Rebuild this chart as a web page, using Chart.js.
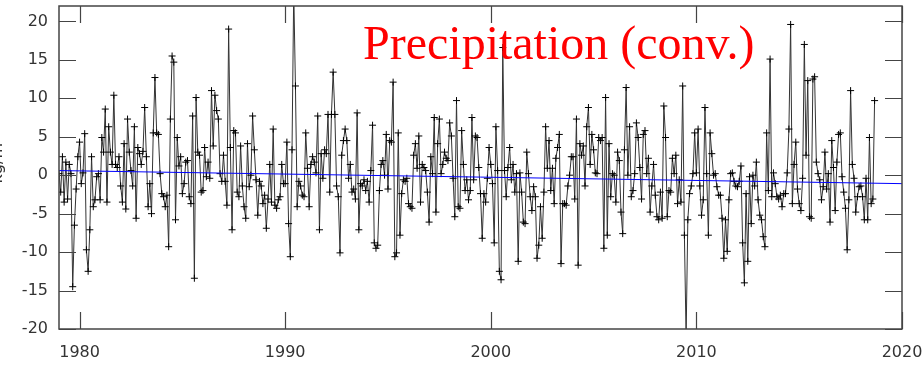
<!DOCTYPE html>
<html>
<head>
<meta charset="utf-8">
<script src="https://cdn.jsdelivr.net/npm/chart.js@4"></script>
<style>
  html, body { margin: 0; padding: 0; background: #ffffff; }
  #wrap { width: 924px; height: 368px; }
</style>
</head>
<body>
<div id="wrap"><canvas id="c" width="924" height="368"></canvas></div>
<script>
// ---------------- data ----------------
const startYear = 1979;           // first month: Jan 1979
const chartTitle = 'Precipitation (conv.)';
const yAxisTitle = 'kg/m²';
const xTickYears = [1980, 1990, 2000, 2010, 2020];
const yTickValues = [-20, -15, -10, -5, 0, 5, 10, 15, 20];
const trendStartEnd = [0.6, -1.1];   // blue trend line at 1979 and 2020
const trendYears = [1979, 2020];

// monthly anomalies, one row per year
const precip = [
  /*1979*/ 0.2, -2.2, 2.4, -3.5, 1.7, -3.1, 1.4, 0.2, -14.5, -6.5, -1.8, 2.4,
  /*1980*/ 4.3, -1.1, 0.3, 5.4, -9.7, -12.5, -7.1, 2.4, -4.1, -3.2, -0.2, 0.2,
  /*1981*/ -3.2, 4.9, 3.0, 8.6, -3.5, 6.3, 3.0, 1.4, 10.4, 1.4, 1.0, 2.4,
  /*1982*/ -1.4, -3.5, 4.1, -4.4, 7.3, 3.0, 0.6, -1.4, 6.3, -5.6, 3.6, 2.8,
  /*1983*/ 1.4, 3.1, 8.8, 2.4, -4.1, -1.1, -5.0, 5.5, 12.7, 5.5, 5.3, 0.2,
  /*1984*/ -2.4, -2.8, -4.1, -2.6, -9.3, 7.3, 15.5, 14.7, -5.8, 4.9, 1.2, 2.4,
  /*1985*/ -2.4, -1.1, 1.7, 1.9, -2.8, -3.7, 7.7, -13.4, 10.1, 3.0, 2.6, -2.2,
  /*1986*/ -2.0, 3.6, -0.2, 1.7, -0.4, 11.0, 3.8, 10.4, 8.4, 7.3, 0.2, -0.8,
  /*1987*/ 2.6, -0.8, -3.9, 19.0, 3.6, -7.1, 5.8, 5.5, -2.2, -2.8, 3.8, -1.4,
  /*1988*/ -4.1, -5.6, 4.1, -1.5, 0.0, 7.7, 3.3, -0.6, -5.2, -0.8, -1.4, -3.7,
  /*1989*/ -2.6, -6.9, -3.1, 1.4, -3.5, 6.0, -3.9, -4.3, -3.2, -2.8, 1.4, -1.1,
  /*1990*/ -1.1, 4.3, -6.3, -10.6, 3.3, 24.0, 11.6, -4.1, -0.8, -1.4, -2.6, -2.8,
  /*1991*/ 5.5, 0.9, -4.1, 1.4, 2.4, 1.7, 0.3, 7.7, -7.1, 2.8, -0.4, 3.3,
  /*1992*/ 2.8, 7.9, -2.2, 7.9, 13.4, 7.9, -1.4, -2.8, -10.1, 2.6, 4.5, 6.0,
  /*1993*/ 4.5, -0.4, 1.4, -2.2, -1.8, -3.1, 8.1, -7.1, -1.1, -1.4, -0.6, -2.0,
  /*1994*/ -0.8, -3.5, 0.6, 6.5, -8.8, -9.5, -9.1, -2.0, 1.4, 1.9, 0.0, 5.3,
  /*1995*/ -1.8, 4.5, 4.3, 12.1, -10.6, -10.1, 5.5, -7.8, -2.4, -0.6, -0.8, -0.4,
  /*1996*/ -3.7, -4.1, -4.3, 2.6, 4.1, 0.9, 5.1, -3.5, 1.4, 1.0, 0.6, -2.2,
  /*1997*/ -6.1, 2.4, 0.2, 7.5, -4.8, 4.1, 7.3, 0.2, 1.4, 3.0, 2.2, 1.9,
  /*1998*/ 6.8, 5.1, -0.4, -5.4, 9.7, -4.1, -4.3, 5.8, 1.4, -2.0, -0.6, -3.2,
  /*1999*/ -2.0, 7.5, -0.6, 5.1, 4.9, 1.0, -2.4, -8.2, -2.4, -3.5, -0.4, 3.6,
  /*2000*/ 1.4, -1.1, -8.8, 6.3, 0.6, -12.5, -13.6, 16.6, 0.6, -2.8, 1.0, 3.6,
  /*2001*/ -0.6, 1.4, -2.2, 0.2, -11.2, 0.3, -2.2, -6.1, -6.3, 3.0, 0.2, -2.8,
  /*2002*/ -4.6, -1.5, -2.8, -10.8, -9.1, -4.1, -8.2, -2.2, 6.3, 0.9, 4.5, -2.0,
  /*2003*/ 0.9, -3.7, 2.2, 3.6, 5.3, -11.5, -3.7, -3.7, -3.9, -1.4, 0.0, 2.4,
  /*2004*/ 2.4, -3.1, 7.3, -11.7, 4.1, 2.6, 3.8, -1.4, 6.3, 8.8, 1.4, 5.3,
  /*2005*/ 3.3, 0.3, 0.2, 4.9, 4.5, 4.9, -9.5, 10.1, -7.8, 4.1, -2.8, 0.2,
  /*2006*/ 0.0, -3.5, 3.0, 1.9, -4.8, -7.6, 3.3, 11.4, 0.0, 6.3, -2.8, -2.0,
  /*2007*/ 0.2, 6.8, 4.9, 1.0, -3.1, 5.3, 5.8, 0.2, 2.2, -4.8, -1.4, 1.4,
  /*2008*/ -2.6, -5.4, -5.8, -2.2, -5.6, 9.0, 4.9, -5.4, -2.0, -2.2, 2.2, 0.2,
  /*2009*/ 2.6, -3.7, -0.6, -3.5, 11.6, -7.8, -21.0, -5.8, -2.4, -1.4, 0.2, 5.5,
  /*2010*/ 0.3, 6.0, -1.4, -5.2, -3.2, 8.8, 0.2, -7.8, 5.5, 2.8, 0.0, 0.2,
  /*2011*/ -1.5, -2.6, -2.6, -5.6, -10.8, -5.8, -9.9, -3.2, 0.2, 0.3, -0.8, -1.4,
  /*2012*/ -1.5, -0.8, 1.2, -8.8, -14.0, -2.4, -11.2, -0.2, -6.3, 0.0, -1.4, 1.7,
  /*2013*/ -3.2, -5.2, -5.8, -8.0, -9.3, 5.5, -2.0, 15.1, -2.8, 0.3, -1.1, -2.8,
  /*2014*/ -3.1, -2.6, -4.1, -2.4, -2.4, 0.3, 6.0, 19.6, -3.7, 1.4, 4.3, -1.8,
  /*2015*/ -3.7, -4.6, -0.4, 17.0, 2.6, 12.3, -5.4, -5.6, 12.5, 12.8, 1.7, 0.2,
  /*2016*/ -0.6, -3.2, -1.5, 3.0, -1.8, 0.2, -6.1, 4.5, 1.0, -4.6, 1.7, 5.3,
  /*2017*/ 5.5, -0.2, -2.2, -4.3, -9.7, -3.2, 11.0, 1.4, -0.4, -4.8, -2.8, -1.5,
  /*2018*/ -1.4, -2.8, -5.8, -0.4, -5.8, 4.9, -3.7, -3.1, 9.7
];

// ---------------- chart ----------------
const seriesPoints = precip.map((v, i) => ({ x: startYear + i / 12, y: v }));
const trendPoints = trendYears.map((yr, i) => ({ x: yr, y: trendStartEnd[i] }));

const frameAndTitle = {
  id: 'frameAndTitle',
  afterDraw(chart) {
    const { ctx, chartArea: a, scales } = chart;
    const xs = scales.x, ys = scales.y;
    const tl = 17;
    ctx.save();
    ctx.strokeStyle = '#444444';
    ctx.lineWidth = 1.5;
    ctx.strokeRect(a.left, a.top, a.right - a.left, a.bottom - a.top);
    ctx.lineWidth = 1.2;
    ctx.beginPath();
    xTickYears.forEach(v => {
      const px = Math.round(xs.getPixelForValue(v)) + 0.5;
      ctx.moveTo(px, a.bottom); ctx.lineTo(px, a.bottom - tl);
      ctx.moveTo(px, a.top); ctx.lineTo(px, a.top + tl);
    });
    yTickValues.forEach(v => {
      const py = Math.round(ys.getPixelForValue(v)) + 0.5;
      ctx.moveTo(a.left, py); ctx.lineTo(a.left + tl, py);
      ctx.moveTo(a.right, py); ctx.lineTo(a.right - tl, py);
    });
    ctx.stroke();

    // title inside plot
    ctx.fillStyle = '#ff0000';
    ctx.font = '48px "Liberation Serif", "Times New Roman", serif';
    ctx.textBaseline = 'alphabetic';
    ctx.textAlign = 'left';
    ctx.fillText(chartTitle, 363, 59);

    // partially visible y-axis title
    ctx.save();
    ctx.translate(2, 160);
    ctx.rotate(-Math.PI / 2);
    ctx.fillStyle = '#333333';
    ctx.font = '16px "DejaVu Sans", sans-serif';
    ctx.textAlign = 'center';
    ctx.textBaseline = 'alphabetic';
    ctx.fillText(yAxisTitle, 0, 0);
    ctx.restore();
    ctx.restore();
  }
};

new Chart(document.getElementById('c'), {
  type: 'line',
  data: {
    datasets: [
      {
        data: trendPoints,
        borderColor: '#0000ff',
        borderWidth: 1,
        pointRadius: 0,
        fill: false
      },
      {
        data: seriesPoints,
        borderColor: '#333333',
        borderWidth: 1,
        pointStyle: 'cross',
        pointRadius: 3.5,
        pointBorderColor: '#000000',
        pointBorderWidth: 1,
        tension: 0,
        fill: false
      }
    ]
  },
  options: {
    responsive: false,
    animation: false,
    devicePixelRatio: 1,
    layout: { padding: { top: 6, right: 22, left: 0, bottom: 0 } },
    plugins: { legend: { display: false }, tooltip: { enabled: false } },
    scales: {
      x: {
        type: 'linear',
        min: 1979,
        max: 2020,
        grid: { display: false, drawTicks: false },
        border: { display: false },
        ticks: {
          color: '#333333',
          font: { family: '"DejaVu Sans", sans-serif', size: 16 },
          padding: 14,
          maxRotation: 0,
          callback: v => String(v)
        },
        afterBuildTicks: s => { s.ticks = xTickYears.map(v => ({ value: v })); },
        afterFit: s => { s.height = 39; s.paddingLeft = 0; s.paddingRight = 0; s.paddingTop = 0; s.paddingBottom = 0; }
      },
      y: {
        type: 'linear',
        min: -20,
        max: 22,
        grid: { display: false, drawTicks: false },
        border: { display: false },
        ticks: {
          color: '#333333',
          font: { family: '"DejaVu Sans", sans-serif', size: 16 },
          padding: 11,
          callback: v => String(v)
        },
        afterBuildTicks: s => { s.ticks = yTickValues.map(v => ({ value: v })); },
        afterFit: s => { s.width = 59; s.paddingTop = 0; s.paddingBottom = 0; s.paddingLeft = 0; s.paddingRight = 0; }
      }
    }
  },
  plugins: [frameAndTitle]
});
</script>
</body>
</html>
